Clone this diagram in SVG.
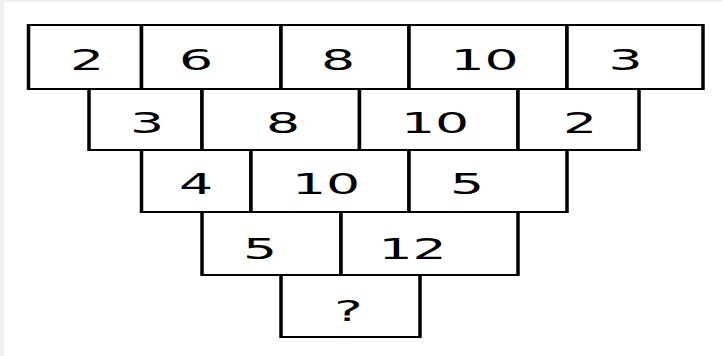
<svg xmlns="http://www.w3.org/2000/svg" width="722" height="356" viewBox="0 0 722 356">
<style>
.bg{fill:#ffffff}
.edge{fill:none;stroke:#000;stroke-width:2}
.side{fill:none;stroke:#000;stroke-width:3.5}
.box{fill:#ffffff;stroke:none}
.t{font-family:"DejaVu Sans",Verdana,sans-serif;font-size:29px;fill:#000;text-anchor:middle}
</style>
<rect x="0" y="0" width="722" height="356" fill="#f0f0f0"/>
<rect x="4" y="2" width="718" height="354" fill="#ffffff"/>
<g id="n1-1"><rect class="box" x="28.5" y="25" width="113" height="64"/><path class="edge" d="M28.5 25H141.5M28.5 89H141.5"/><path class="side" d="M28.5 24V90M141.5 24V90"/><text class="t" transform="translate(87 69.5) scale(1.85 1)">2</text></g>
<g id="n1-2"><rect class="box" x="141.5" y="25" width="139.5" height="64"/><path class="edge" d="M141.5 25H281M141.5 89H281"/><path class="side" d="M141.5 24V90M281 24V90"/><text class="t" transform="translate(196 69.5) scale(1.85 1)">6</text></g>
<g id="n1-3"><rect class="box" x="281" y="25" width="128" height="64"/><path class="edge" d="M281 25H409M281 89H409"/><path class="side" d="M281 24V90M409 24V90"/><text class="t" transform="translate(338 69.5) scale(1.85 1)">8</text></g>
<g id="n1-4"><rect class="box" x="409" y="25" width="158" height="64"/><path class="edge" d="M409 25H567M409 89H567"/><path class="side" d="M409 24V90M567 24V90"/><text class="t" transform="translate(484.5 69.5) scale(1.85 1)">10</text></g>
<g id="n1-5"><rect class="box" x="567" y="25" width="136" height="64"/><path class="edge" d="M567 25H703M567 89H703"/><path class="side" d="M567 24V90M703 24V90"/><text class="t" transform="translate(625.5 69.5) scale(1.85 1)">3</text></g>
<g id="n2-1"><rect class="box" x="89" y="89" width="113" height="61"/><path class="edge" d="M89 89H202M89 150H202"/><path class="side" d="M89 88V151M202 88V151"/><text class="t" transform="translate(147 133.3) scale(1.85 1)">3</text></g>
<g id="n2-2"><rect class="box" x="202" y="89" width="157.5" height="61"/><path class="edge" d="M202 89H359.5M202 150H359.5"/><path class="side" d="M202 88V151M359.5 88V151"/><text class="t" transform="translate(283 133.3) scale(1.85 1)">8</text></g>
<g id="n2-3"><rect class="box" x="359.5" y="89" width="158.5" height="61"/><path class="edge" d="M359.5 89H518M359.5 150H518"/><path class="side" d="M359.5 88V151M518 88V151"/><text class="t" transform="translate(435 133.3) scale(1.85 1)">10</text></g>
<g id="n2-4"><rect class="box" x="518" y="89" width="121" height="61"/><path class="edge" d="M518 89H639M518 150H639"/><path class="side" d="M518 88V151M639 88V151"/><text class="t" transform="translate(580 133.3) scale(1.85 1)">2</text></g>
<g id="n3-1"><rect class="box" x="141.5" y="150" width="109.5" height="62"/><path class="edge" d="M141.5 150H251M141.5 212H251"/><path class="side" d="M141.5 149V213M251 149V213"/><text class="t" transform="translate(196 194.3) scale(1.85 1)">4</text></g>
<g id="n3-2"><rect class="box" x="251" y="150" width="158" height="62"/><path class="edge" d="M251 150H409M251 212H409"/><path class="side" d="M251 149V213M409 149V213"/><text class="t" transform="translate(326 194.3) scale(1.85 1)">10</text></g>
<g id="n3-3"><rect class="box" x="409" y="150" width="158" height="62"/><path class="edge" d="M409 150H567M409 212H567"/><path class="side" d="M409 149V213M567 149V213"/><text class="t" transform="translate(467 194.3) scale(1.85 1)">5</text></g>
<g id="n4-1"><rect class="box" x="202" y="212" width="139" height="63"/><path class="edge" d="M202 212H341M202 275H341"/><path class="side" d="M202 211V276M341 211V276"/><text class="t" transform="translate(260 258.7) scale(1.85 1)">5</text></g>
<g id="n4-2"><rect class="box" x="341" y="212" width="177" height="63"/><path class="edge" d="M341 212H518M341 275H518"/><path class="side" d="M341 211V276M518 211V276"/><text class="t" transform="translate(412.5 258.7) scale(1.85 1)">12</text></g>
<g id="n5-1"><rect class="box" x="281" y="275" width="139" height="62"/><path class="edge" d="M281 275H420M281 337H420"/><path class="side" d="M281 274V338M420 274V338"/><text class="t" transform="translate(348.5 321) scale(1.85 1)">?</text></g>
<g id="connectors"></g>
</svg>
